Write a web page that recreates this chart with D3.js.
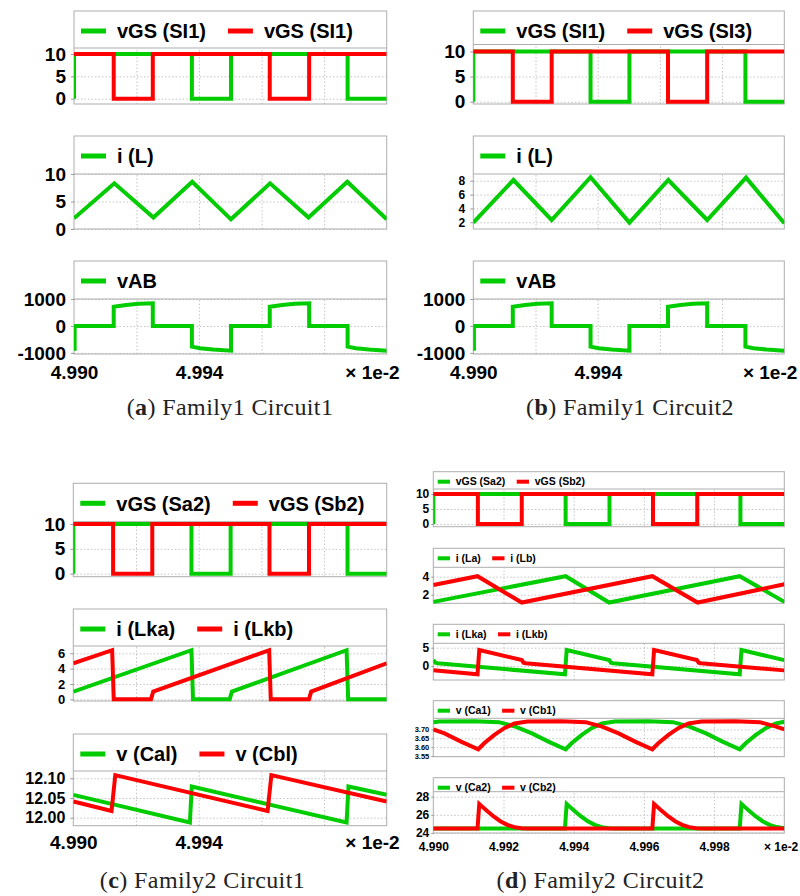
<!DOCTYPE html>
<html><head><meta charset="utf-8">
<script src="https://cdn.jsdelivr.net/npm/d3@7"></script>
<style>body{margin:0;background:#fff} svg{display:block}</style>
</head><body>
<svg id="c" width="800" height="896"></svg>
<script>
// ---------------- DATA (time axis in units of 1e-2 s) ----------------
const xTicks = [4.990, 4.992, 4.994, 4.996, 4.998, 5.000];
const xLabelsABC = ["4.990", "", "4.994", "", "", ""];
const xLabelsD = ["4.990", "4.992", "4.994", "4.996", "4.998", ""];
const xUnitLabel = "× 1e-2";

// gate signals (same timing in every circuit)
const gateGreen = [[4.9900,0],[4.9900,10],[4.99377,10],[4.99377,0],[4.99502,0],[4.99502,10],[4.99875,10],[4.99875,0],[5.0000,0]];
const gateRed = [[4.9900,10],[4.99127,10],[4.99127,0],[4.99252,0],[4.99252,10],[4.99626,10],[4.99626,0],[4.99752,0],[4.99752,10],[5.0000,10]];

// (a) Family1 Circuit1
const iL_a = [[4.9900,1.95],[4.99129,8.3],[4.99254,2.1],[4.99378,8.6],[4.99502,1.76],[4.99627,8.3],[4.9975,2.1],[4.99874,8.6],[5.0000,1.76]];
const vAB_a = [[4.99002,-915],[4.99002,0],[4.99127,0],[4.99127,715],[4.99167,780],[4.99207,825],[4.99252,840],[4.99252,0],
  [4.99377,0],[4.99377,-767],[4.99403,-826],[4.99445,-877],[4.99502,-915],[4.99502,0],
  [4.99626,0],[4.99626,715],[4.99666,780],[4.99706,825],[4.99752,840],[4.99752,0],
  [4.99875,0],[4.99875,-767],[4.99901,-826],[4.99943,-877],[5.0000,-915]];

// (b) Family1 Circuit2
const iL_b = [[4.9900,1.95],[4.99129,8.1],[4.99252,2.33],[4.99377,8.5],[4.99502,1.95],[4.99627,8.1],[4.99752,2.33],[4.99877,8.45],[5.0000,1.86]];
const vAB_b = [[4.99002,-915],[4.99002,0],[4.99127,0],[4.99127,715],[4.99167,780],[4.99207,825],[4.99252,840],[4.99252,0],
  [4.99377,0],[4.99377,-767],[4.99403,-826],[4.99445,-877],[4.99502,-915],[4.99502,0],
  [4.99626,0],[4.99626,715],[4.99666,780],[4.99706,825],[4.99752,840],[4.99752,0],
  [4.99875,0],[4.99875,-767],[4.99901,-826],[4.99943,-877],[5.0000,-915]];

// (c) Family2 Circuit1
const iLka_c = [[4.9900,1.0],[4.99377,6.4],[4.99382,0],[4.99499,0],[4.99506,1.0],[4.99872,6.4],[4.99877,0],[5.0000,0]];
const iLkb_c = [[4.9900,4.7],[4.99124,6.4],[4.99129,0],[4.99248,0],[4.99255,1.0],[4.99625,6.4],[4.9963,0],[4.99752,0],[4.99759,1.0],[5.0000,4.7]];
const vCa_c = [[4.9900,12.058],[4.99372,11.988],[4.99378,12.079],[4.99872,11.988],[4.99878,12.079],[5.0000,12.058]];
const vCb_c = [[4.9900,12.041],[4.99122,12.017],[4.99134,12.108],[4.99620,12.017],[4.99632,12.108],[5.0000,12.041]];

// (d) Family2 Circuit2
const iLa_d = [[4.9900,1.2],[4.99377,4.05],[4.99501,1.12],[4.99873,4.05],[5.0000,1.2]];
const iLb_d = [[4.9900,3.07],[4.99126,4.05],[4.99252,1.12],[4.99624,4.05],[4.99753,1.12],[5.0000,3.15]];
const iLka_d = [[4.9900,1.64],[4.99006,0.9],[4.99012,0.74],[4.99375,-2.27],[4.9938,4.37],[4.99501,1.64],[4.99506,0.9],[4.99512,0.74],
  [4.99873,-2.27],[4.99878,4.37],[5.0000,1.6]];
const iLkb_d = [[4.9900,-1.15],[4.99126,-2.27],[4.99131,4.37],[4.99252,1.64],[4.99257,0.9],[4.99263,0.74],[4.99624,-2.27],[4.99629,4.37],
  [4.99751,1.64],[4.99756,0.9],[4.99762,0.74],[5.0000,-1.2]];
const vCa1_d = [[4.9900,3.741],[4.99017,3.745],[4.99117,3.746],[4.99187,3.741],[4.99234,3.716],[4.99281,3.678],[4.99328,3.631],[4.99377,3.588],
  [4.99394,3.622],[4.99423,3.669],[4.99451,3.707],[4.9948,3.734],[4.99517,3.745],[4.99613,3.746],[4.99683,3.741],[4.9973,3.716],
  [4.99777,3.678],[4.99824,3.631],[4.99873,3.588],[4.9989,3.622],[4.99919,3.669],[4.99947,3.707],[4.99976,3.734],[5.0000,3.743]];
const vCb1_d = [[4.9900,3.70],[4.99032,3.678],[4.99079,3.631],[4.99128,3.588],[4.99145,3.622],[4.99174,3.669],[4.99202,3.707],[4.99231,3.734],
  [4.99268,3.745],[4.99364,3.746],[4.99434,3.741],[4.99481,3.716],[4.99528,3.678],[4.99575,3.631],[4.99624,3.588],[4.99641,3.622],
  [4.9967,3.669],[4.99698,3.707],[4.99727,3.734],[4.99764,3.745],[4.9986,3.746],[4.9993,3.741],[4.99977,3.716],[5.0000,3.70]];
const vCa2_d = [[4.9900,24.5],[4.99375,24.5],[4.9938,27.2],[4.9939,26.85],[4.994,26.5],[4.9942,25.85],[4.9944,25.3],[4.9946,24.9],[4.9948,24.65],[4.995,24.52],[4.9952,24.5],
  [4.99873,24.5],[4.99878,27.2],[4.99888,26.85],[4.99898,26.5],[4.99918,25.85],[4.99938,25.3],[4.99958,24.9],[4.99978,24.65],[5.0000,24.52]];
const vCb2_d = [[4.9900,24.5],[4.99126,24.5],[4.99131,27.2],[4.99141,26.85],[4.99151,26.5],[4.99171,25.85],[4.99191,25.3],[4.99211,24.9],[4.99231,24.65],[4.99251,24.52],[4.99271,24.5],
  [4.99624,24.5],[4.99629,27.2],[4.99639,26.85],[4.99649,26.5],[4.99669,25.85],[4.99689,25.3],[4.99709,24.9],[4.99729,24.65],[4.99749,24.52],[4.99769,24.5],[5.0000,24.5]];

// y tick values / labels
const ticksGate = [0, 5, 10], labelsGate = ["0", "5", "10"];
const ticksIL_a = [0, 5, 10], labelsIL_a = ["0", "5", "10"];
const ticksIL_b = [2, 4, 6, 8], labelsIL_b = ["2", "4", "6", "8"];
const ticksVAB = [-1000, 0, 1000], labelsVAB = ["-1000", "0", "1000"];
const ticksILk_c = [0, 2, 4, 6], labelsILk_c = ["0", "2", "4", "6"];
const ticksVC_c = [12.00, 12.05, 12.10], labelsVC_c = ["12.00", "12.05", "12.10"];
const ticksIL_d = [2, 4], labelsIL_d = ["2", "4"];
const ticksILk_d = [0, 5], labelsILk_d = ["0", "5"];
const ticksVC1_d = [3.55, 3.60, 3.65, 3.70], labelsVC1_d = ["3.55", "3.60", "3.65", "3.70"];
const ticksVC2_d = [24, 26, 28], labelsVC2_d = ["24", "26", "28"];

// ---------------- STYLE / LAYOUT ----------------
const G = "#00cc00", R = "#ff0000";
const SANS = "'Liberation Sans', Arial, sans-serif";
const SERIF = "'Liberation Serif', 'Times New Roman', serif";

const big = {tickFs: 19, tickSize: 3, tickPad: 5, legFs: 20, legX: 7, legLen: 25, legSw: 5, legTGap: 11, legGap: 22, legDy: 20, xPad: 11.3, unitDx: 13, xLabels: xLabelsABC};
const small = {tickFs: 12, tickSize: 2, tickPad: 2, legFs: 10.5, legX: 4.4, legLen: 12.3, legSw: 4, legTGap: 5.7, legGap: 11.4, legDy: 10, xPad: 9.5, unitDx: 14, xLabels: xLabelsD};

const panels = [
  {st: big, x0: 74, x1: 386.7, cap: ["a", "Family1 Circuit1"], capX: 230, capY: 415, subs: [
    {top: 11, sep: 48, bot: 104, dom: [-1.19, 11.34], ticks: ticksGate, labels: labelsGate, series: [{d: gateGreen, n: "vGS (SI1)", c: G}, {d: gateRed, n: "vGS (SI1)", c: R}]},
    {top: 136, sep: 174, bot: 229, dom: [0, 10], ticks: ticksIL_a, labels: labelsIL_a, series: [{d: iL_a, n: "i (L)", c: G}]},
    {top: 261, sep: 299, bot: 354, dom: [-1040, 1000], ticks: ticksVAB, labels: labelsVAB, series: [{d: vAB_a, n: "vAB", c: G}], xAxis: true}
  ]},
  {st: big, x0: 473.3, x1: 784.3, cap: ["b", "Family1 Circuit2"], capX: 630, capY: 415, subs: [
    {top: 11, sep: 44.5, bot: 104, dom: [-0.45, 11.38], ticks: ticksGate, labels: labelsGate, series: [{d: gateGreen, n: "vGS (SI1)", c: G}, {d: gateRed, n: "vGS (SI3)", c: R}]},
    {top: 136, sep: 174, bot: 229, dom: [1.03, 8.97], ticks: ticksIL_b, labels: labelsIL_b, tickFs: 12, series: [{d: iL_b, n: "i (L)", c: G}]},
    {top: 261, sep: 299, bot: 354, dom: [-1040, 1000], ticks: ticksVAB, labels: labelsVAB, series: [{d: vAB_b, n: "vAB", c: G}], xAxis: true}
  ]},
  {st: big, x0: 73.3, x1: 386.7, cap: ["c", "Family2 Circuit1"], capX: 202.5, capY: 888, xPad: 9.9, subs: [
    {top: 483.3, sep: 521.7, bot: 576.7, dom: [-0.6, 10.46], ticks: ticksGate, labels: labelsGate, series: [{d: gateGreen, n: "vGS (Sa2)", c: G}, {d: gateRed, n: "vGS (Sb2)", c: R}]},
    {top: 609, sep: 646, bot: 701, dom: [-0.22, 6.95], ticks: ticksILk_c, labels: labelsILk_c, tickFs: 13, series: [{d: iLka_c, n: "i (Lka)", c: G}, {d: iLkb_c, n: "i (Lkb)", c: R}]},
    {top: 734, sep: 771, bot: 825.7, dom: [11.9797, 12.1185], ticks: ticksVC_c, labels: labelsVC_c, tickFs: 16, series: [{d: vCa_c, n: "v (Cal)", c: G}, {d: vCb_c, n: "v (Cbl)", c: R}], xAxis: true}
  ]},
  {st: small, x0: 433.3, x1: 784.3, cap: ["d", "Family2 Circuit2"], capX: 600.5, capY: 888, subs: [
    {top: 471.7, sep: 489, bot: 526.7, dom: [-0.9, 11.67], ticks: ticksGate, labels: labelsGate, series: [{d: gateGreen, n: "vGS (Sa2)", c: G}, {d: gateRed, n: "vGS (Sb2)", c: R}]},
    {top: 548.3, sep: 567.3, bot: 603.3, dom: [1.04, 5.04], ticks: ticksIL_d, labels: labelsIL_d, series: [{d: iLa_d, n: "i (La)", c: G}, {d: iLb_d, n: "i (Lb)", c: R}]},
    {top: 624.3, sep: 643.3, bot: 680, dom: [-3.83, 6.2], ticks: ticksILk_d, labels: labelsILk_d, series: [{d: iLka_d, n: "i (Lka)", c: G}, {d: iLkb_d, n: "i (Lkb)", c: R}]},
    {top: 700.7, sep: 718.3, bot: 756.7, dom: [3.546, 3.763], ticks: ticksVC1_d, labels: labelsVC1_d, tickFs: 7.5, series: [{d: vCa1_d, n: "v (Ca1)", c: G}, {d: vCb1_d, n: "v (Cb1)", c: R}]},
    {top: 777.7, sep: 791.7, bot: 833, dom: [24, 28.55], ticks: ticksVC2_d, labels: labelsVC2_d, series: [{d: vCa2_d, n: "v (Ca2)", c: G}, {d: vCb2_d, n: "v (Cb2)", c: R}], xAxis: true}
  ]}
];

// ---------------- DRAW ----------------
const svg = d3.select("#c");
const defs = svg.append("defs");
let clipN = 0;

function drawSub(P, s) {
  const st = P.st;
  const x = d3.scaleLinear().domain([xTicks[0], xTicks[xTicks.length - 1]]).range([P.x0, P.x1]);
  const y = d3.scaleLinear().domain(s.dom).range([s.bot, s.sep]);
  const g = svg.append("g");

  // grid
  g.append("g").attr("transform", `translate(0,${s.bot})`)
    .call(d3.axisBottom(x).tickValues(xTicks.slice(1, -1)).tickSize(-(s.bot - s.sep)).tickFormat(""))
    .call(a => { a.select(".domain").remove(); a.selectAll("line").attr("stroke", "#c4c4c4").attr("stroke-dasharray", "1.5,2"); });
  g.append("g").attr("transform", `translate(${P.x0},0)`)
    .call(d3.axisLeft(y).tickValues(s.ticks).tickSize(-(P.x1 - P.x0)).tickFormat(""))
    .call(a => { a.select(".domain").remove(); a.selectAll("line").attr("stroke", "#c4c4c4").attr("stroke-dasharray", "1.5,2"); });

  // box + legend separator
  g.append("rect").attr("x", P.x0).attr("y", s.top).attr("width", P.x1 - P.x0).attr("height", s.bot - s.top)
    .attr("fill", "none").attr("stroke", "#adadad").attr("stroke-width", 1);
  g.append("line").attr("x1", P.x0).attr("x2", P.x1).attr("y1", s.sep).attr("y2", s.sep).attr("stroke", "#adadad");

  // y axis labels
  g.append("g").attr("transform", `translate(${P.x0},0)`)
    .call(d3.axisLeft(y).tickValues(s.ticks).tickFormat((d, i) => s.labels[i]).tickSize(st.tickSize).tickPadding(st.tickPad))
    .call(a => {
      a.select(".domain").remove();
      a.selectAll("line").attr("stroke", "#999");
      a.selectAll("text").attr("font-family", SANS).attr("font-weight", "bold").attr("font-size", s.tickFs || st.tickFs).attr("fill", "#000");
    });

  // series
  const id = "clip" + (clipN++);
  defs.append("clipPath").attr("id", id).append("rect")
    .attr("x", P.x0).attr("y", s.sep).attr("width", P.x1 - P.x0).attr("height", s.bot - s.sep + 2);
  const line = d3.line().x(d => x(d[0])).y(d => y(d[1]));
  s.series.forEach(se => {
    g.append("path").attr("clip-path", `url(#${id})`).attr("d", line(se.d))
      .attr("fill", "none").attr("stroke", se.c).attr("stroke-width", 4).attr("stroke-linejoin", "miter");
  });

  // legend
  let lx = P.x0 + st.legX;
  const ly = s.top + st.legDy;
  s.series.forEach(se => {
    g.append("line").attr("x1", lx).attr("x2", lx + st.legLen).attr("y1", ly).attr("y2", ly)
      .attr("stroke", se.c).attr("stroke-width", st.legSw);
    const t = g.append("text").attr("x", lx + st.legLen + st.legTGap).attr("y", ly).attr("dy", "0.36em")
      .attr("font-family", SANS).attr("font-weight", "bold").attr("font-size", st.legFs).attr("fill", "#000").text(se.n);
    lx += st.legLen + st.legTGap + t.node().getComputedTextLength() + st.legGap;
  });

  // x axis
  if (s.xAxis) {
    const pad = P.xPad !== undefined ? P.xPad : st.xPad;
    g.append("g").attr("transform", `translate(0,${s.bot})`)
      .call(d3.axisBottom(x).tickValues(xTicks).tickFormat((d, i) => st.xLabels[i]).tickSize(0).tickPadding(pad))
      .call(a => {
        a.select(".domain").remove();
        a.selectAll("text").attr("font-family", SANS).attr("font-weight", "bold").attr("font-size", st.tickFs).attr("fill", "#000");
      });
    g.append("text").attr("x", P.x1 + st.unitDx).attr("y", s.bot + pad).attr("dy", "0.71em").attr("text-anchor", "end")
      .attr("font-family", SANS).attr("font-weight", "bold").attr("font-size", st.tickFs).attr("fill", "#000").text(xUnitLabel);
  }
}

panels.forEach(P => {
  P.subs.forEach(s => drawSub(P, s));
  const t = svg.append("text").attr("x", P.capX).attr("y", P.capY).attr("text-anchor", "middle")
    .attr("font-family", SERIF).attr("font-size", 24).attr("letter-spacing", 0.4).attr("fill", "#222");
  t.append("tspan").text("(");
  t.append("tspan").attr("font-weight", "bold").text(P.cap[0]);
  t.append("tspan").text(") " + P.cap[1]);
});
</script>
</body></html>
